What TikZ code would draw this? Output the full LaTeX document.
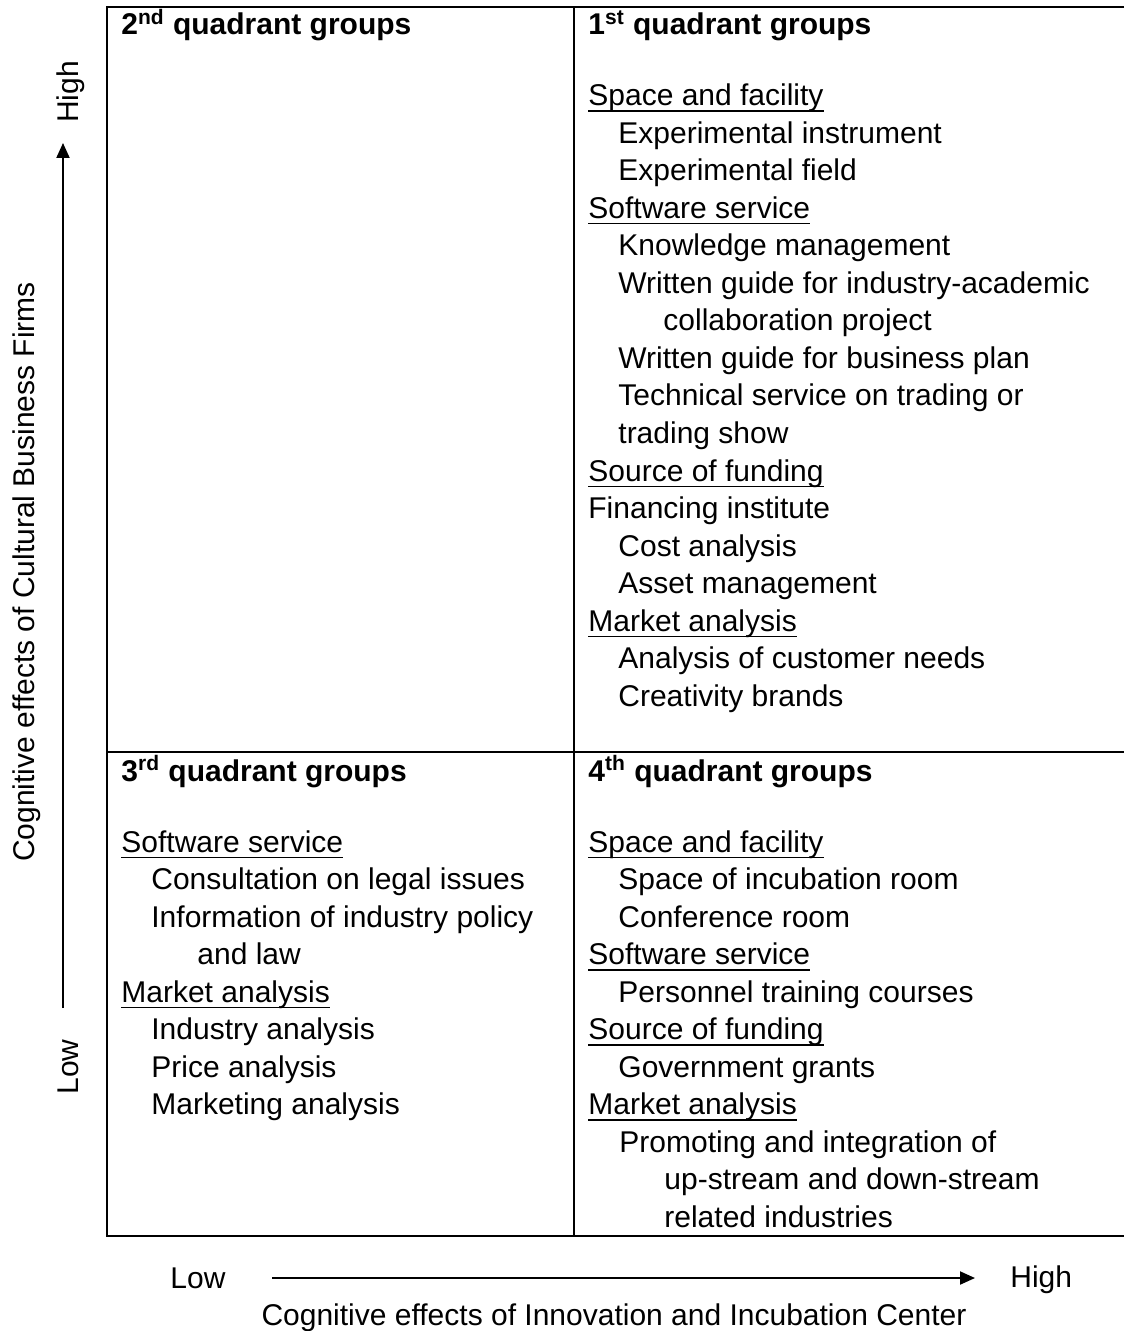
\documentclass[tikz,border=0pt]{standalone}
\usepackage{fontspec}
\setmainfont{Liberation Sans}
\usetikzlibrary{arrows.meta,positioning}
\newcommand{\catul}[1]{\setbox0\hbox{#1}\rlap{\rule[-3pt]{\wd0}{0.75pt}}\box0}

\begin{document}
\begin{tikzpicture}[x=0.5pt, y=-0.5pt,
    item/.style = {anchor=base west, inner sep=0pt, font=\fontsize{15}{18.75}\selectfont},
    head/.style = {item, font=\fontsize{15}{18.75}\selectfont\bfseries},
    lbl/.style = {inner sep=0pt, font=\fontsize{15}{18.75}\selectfont},
    arr/.style = {line width=1pt, -{Triangle[length=7.5pt,width=6.5pt]}}]
    \useasboundingbox (0,0) rectangle (1124,1331);
    % quadrant frame
    \draw[line width=1pt] (1124,7) -- (107,7) -- (107,1236) -- (1124,1236);
    \draw[line width=1pt] (574,7) -- (574,1236);
    \draw[line width=1pt] (107,752) -- (1124,752);

    % headings
    \node[head] (h2) at (121,35)  {2\textsuperscript{nd} quadrant groups};
    \node[head] (h1) at (588,35)  {1\textsuperscript{st} quadrant groups};
    \node[head] (h3) at (121,781) {3\textsuperscript{rd} quadrant groups};
    \node[head] (h4) at (588,781) {4\textsuperscript{th} quadrant groups};

    % 1st quadrant
    \foreach \x/\t [count=\i from 0] in {
        588/\catul{Space and facility},
        618/Experimental instrument,
        618/Experimental field,
        588/\catul{Software service},
        618/Knowledge management,
        618/Written guide for industry-academic,
        663/collaboration project,
        618/Written guide for business plan,
        618/Technical service on trading or,
        618/trading show,
        588/\catul{Source of funding},
        588/Financing institute,
        618/Cost analysis,
        618/Asset management,
        588/\catul{Market analysis},
        618/Analysis of customer needs,
        618/Creativity brands}
        \node[item, name=q1-\i] at (\x,106+37.5*\i) {\t};

    % 3rd quadrant
    \foreach \x/\t [count=\i from 0] in {
        121/\catul{Software service},
        151/Consultation on legal issues,
        151/Information of industry policy,
        197/and law,
        121/\catul{Market analysis},
        151/Industry analysis,
        151/Price analysis,
        151/Marketing analysis}
        \node[item, name=q3-\i] at (\x,852+37.5*\i) {\t};

    % 4th quadrant
    \foreach \x/\t [count=\i from 0] in {
        588/\catul{Space and facility},
        618/Space of incubation room,
        618/Conference room,
        588/\catul{Software service},
        618/Personnel training courses,
        588/\catul{Source of funding},
        618/Government grants,
        588/\catul{Market analysis},
        619/Promoting and integration of,
        664/up-stream and down-stream,
        664/related industries}
        \node[item, name=q4-\i] at (\x,852+37.5*\i) {\t};

    % vertical axis
    \node[lbl, rotate=90, anchor=base] (ylow)   at (78,1067) {Low};
    \node[lbl, rotate=90, anchor=base] (yhigh)  at (78,92)   {High};
    \node[lbl, rotate=90, anchor=base] (ytitle) at (34,572)  {Cognitive effects of Cultural Business Firms};
    \coordinate (ys) at (63,1008);
    \coordinate (ye) at (63,143);
    \draw[arr] (ys) -- (ye);

    % horizontal axis
    \node[lbl, anchor=base]      (xlow)   at (198,1288)  {Low};
    \node[lbl, anchor=base west] (xhigh)  at (1010,1287) {High};
    \node[lbl, anchor=base]      (xtitle) at (614,1325)  {Cognitive effects of Innovation and Incubation Center};
    \coordinate (xs) at (272,1278);
    \coordinate (xe) at (975,1278);
    \draw[arr] (xs) -- (xe);
\end{tikzpicture}
\end{document}
